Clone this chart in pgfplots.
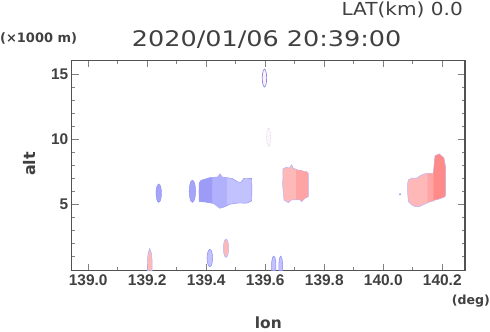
\documentclass[border=0pt]{standalone}
\usepackage{fontspec}
\setmainfont{Liberation Sans}
\newfontfamily\widefont[FakeStretch=1.19]{DejaVu Sans}
\newfontfamily\widerfont[FakeStretch=1.12]{DejaVu Sans}
\newfontfamily\dvs{DejaVu Sans}
\usepackage{pgfplots}
\pgfplotsset{compat=1.18}
\definecolor{txt}{HTML}{404040}
\definecolor{bluefill}{HTML}{A4A4F8}
\definecolor{blueedge}{HTML}{8C8CF0}
\definecolor{bluelight}{HTML}{C2C2FF}
\definecolor{bluemid}{HTML}{B0B0FC}
\definecolor{bluedark}{HTML}{9C9CF6}
\definecolor{pinklight}{HTML}{FFB8B8}
\definecolor{pinkmid}{HTML}{FFA4A4}
\definecolor{pinkdark}{HTML}{FF8A8A}
\definecolor{pinkedge}{HTML}{B4B4FF}
\begin{document}
\begin{tikzpicture}[x=1bp,y=1bp]
\path[use as bounding box] (0,0) rectangle (490,331);
\begin{axis}[at={(71.7bp,60.3bp)}, anchor=south west, scale only axis,
  width=393.3bp, height=210.4bp,
  xmin=138.944, xmax=140.277, ymin=-0.1, ymax=16.05,
  xtick={139,139.2,139.4,139.6,139.8,140,140.2},
  xticklabels={139.0,139.2,139.4,139.6,139.8,140.0,140.2},
  minor xtick={139.1,139.3,139.5,139.7,139.9,140.1},
  ytick={5,10,15}, yticklabels={5,10,15},
  minor ytick={1,2,3,4,6,7,8,9,11,12,13,14},
  tick align=inside, major tick length=7bp, minor tick length=3.5bp,
  axis line style={draw=black!68, line width=1.3bp},
  tick style={draw=black!50, line width=0.8bp},
  ticklabel style={font=\bfseries\fontsize{15.5}{16}\selectfont, text=txt},
  clip=true]
% blob C (large blue)
\addplot[fill=bluelight, draw=blueedge, line width=0.4bp] coordinates {
 (139.3763,6.638) (139.3820,6.831) (139.4125,7.046) (139.4397,7.10) (139.4464,7.331)
 (139.4532,7.10) (139.4871,6.985) (139.5075,6.715) (139.5176,6.677) (139.5278,7.0)
 (139.5539,6.985) (139.5549,6.10) (139.5539,5.254) (139.5369,5.077) (139.5142,5.10)
 (139.5031,5.077) (139.4803,5.0) (139.4634,4.815) (139.4464,4.692) (139.4363,4.869)
 (139.4237,5.077) (139.3956,5.177) (139.3763,5.20) (139.3753,5.946)} -- cycle;
\addplot[fill=bluemid, draw=none] coordinates {
 (139.42,7.05) (139.4397,7.10) (139.4464,7.331) (139.4532,7.10) (139.47,7.05)
 (139.47,4.90) (139.4634,4.815) (139.4464,4.692) (139.4363,4.869) (139.4237,5.077) (139.42,5.05)} -- cycle;
\addplot[fill=bluedark, draw=none] coordinates {
 (139.3763,6.638) (139.3820,6.831) (139.4125,7.046) (139.42,7.05) (139.42,5.05)
 (139.4125,5.10) (139.3956,5.177) (139.3763,5.20) (139.3753,5.946)} -- cycle;
% blob A
\addplot[fill=bluefill, draw=blueedge, line width=0.4bp] coordinates {
 (139.2485,5.85) (139.2472,6.205) (139.2438,6.465) (139.239,6.56) (139.2343,6.465) (139.2308,6.205)
 (139.2295,5.85) (139.2308,5.495) (139.2343,5.235) (139.239,5.14) (139.2438,5.235) (139.2472,5.495)} -- cycle;
% blob B
\addplot[fill=bluefill, draw=blueedge, line width=0.4bp] coordinates {
 (139.364,6.0) (139.3625,6.43) (139.3585,6.745) (139.353,6.86) (139.3475,6.745) (139.3435,6.43)
 (139.342,6.0) (139.3435,5.57) (139.3475,5.255) (139.353,5.14) (139.3585,5.255) (139.3625,5.57)} -- cycle;
% blob E
\addplot[fill=bluelight, draw=blueedge, line width=0.5bp] coordinates {
 (139.4215,0.87) (139.4202,1.205) (139.4168,1.45) (139.412,1.54) (139.4073,1.45) (139.4038,1.205)
 (139.4025,0.87) (139.4038,0.535) (139.4073,0.29) (139.412,0.2) (139.4168,0.29) (139.4202,0.535)} -- cycle;
% blob D (pink)
\addplot[fill=pinklight, draw=pinkedge, line width=0.5bp] coordinates {
 (139.2005,-0.1) (139.2005,0.7) (139.2030,1.25) (139.2085,1.62) (139.2140,1.25) (139.2165,0.7) (139.2165,-0.1)} -- cycle;
% blob F (pink)
\addplot[fill=pinklight, draw=pinkedge, line width=0.5bp] coordinates {
 (139.476,1.63) (139.4748,1.985) (139.4715,2.245) (139.467,2.34) (139.4625,2.245) (139.4592,1.985)
 (139.458,1.63) (139.4592,1.275) (139.4625,1.015) (139.467,0.92) (139.4715,1.015) (139.4748,1.275)} -- cycle;
% blob H (top)
\addplot[fill=pink!25, draw=blueedge, line width=0.7bp] coordinates {
 (139.6048,14.69) (139.6038,15.035) (139.601,15.29) (139.5973,15.38) (139.5936,15.29) (139.5908,15.035)
 (139.5898,14.69) (139.5908,14.345) (139.5936,14.09) (139.5973,14.0) (139.601,14.09) (139.6038,14.345)} -- cycle;
% blob I (faint)
\addplot[fill=pink!12, draw=blueedge!60, line width=0.5bp, densely dotted] coordinates {
 (139.6183,10.14) (139.6174,10.495) (139.6149,10.755) (139.6115,10.85) (139.6081,10.755) (139.6056,10.495)
 (139.6047,10.14) (139.6056,9.785) (139.6081,9.525) (139.6115,9.43) (139.6149,9.525) (139.6174,9.785)} -- cycle;
% blobs J, K
\addplot[fill=bluelight, draw=blueedge, line width=0.5bp] coordinates {
 (139.6216,-0.1) (139.6216,0.55) (139.6245,0.9) (139.6288,1.02) (139.6331,0.9) (139.636,0.55) (139.636,-0.1)} -- cycle;
\addplot[fill=bluelight, draw=blueedge, line width=0.5bp] coordinates {
 (139.6465,-0.1) (139.6465,0.55) (139.649,0.9) (139.6525,1.02) (139.656,0.9) (139.6585,0.55) (139.6585,-0.1)} -- cycle;
% blob L (pink middle)
\addplot[fill=pinklight, draw=pinkedge, line width=0.5bp] coordinates {
 (139.660,7.72) (139.6725,7.85) (139.6814,7.77) (139.6895,8.03) (139.6949,7.77) (139.7085,7.64)
 (139.7234,7.59) (139.7312,7.51) (139.7403,7.51) (139.7458,7.38) (139.7465,6.0) (139.7458,5.585)
 (139.7346,5.46) (139.7234,5.20) (139.7153,5.38) (139.7064,5.33) (139.6895,5.33) (139.678,5.12)
 (139.6725,5.20) (139.6634,5.33) (139.659,6.46)} -- cycle;
\addplot[fill=pinkmid, draw=none] coordinates {
 (139.705,7.66) (139.7085,7.64) (139.7234,7.59) (139.7312,7.51) (139.7403,7.51) (139.7445,7.40)
 (139.7450,6.0) (139.7445,5.60) (139.7346,5.48) (139.7234,5.24) (139.7153,5.40) (139.7064,5.36) (139.705,5.36)} -- cycle;
% blob M (pink right)
\addplot[fill=pinklight, draw=pinkedge, line width=0.5bp] coordinates {
 (140.0827,6.62) (140.0850,6.87) (140.0963,7.0) (140.1132,7.0) (140.1244,7.18) (140.1356,7.31)
 (140.1525,7.38) (140.1695,7.38) (140.1753,8.72) (140.1898,8.87) (140.2058,8.54) (140.2115,7.8)
 (140.2115,5.8) (140.2092,5.58) (140.1864,5.38) (140.1753,5.33) (140.1695,5.25) (140.1583,5.20)
 (140.1471,5.08) (140.1220,4.82) (140.1075,4.82) (140.0963,4.95) (140.0850,5.20) (140.0827,5.8)} -- cycle;
\addplot[fill=pinkmid, draw=none] coordinates {
 (140.150,7.37) (140.1525,7.38) (140.1695,7.38) (140.1695,5.26) (140.1583,5.21) (140.150,5.12)} -- cycle;
\addplot[fill=pinkdark, draw=none] coordinates {
 (140.1700,7.38) (140.1753,8.70) (140.1898,8.85) (140.2050,8.52) (140.2105,7.8)
 (140.2105,5.8) (140.2085,5.60) (140.1864,5.40) (140.1753,5.35) (140.1700,5.30)} -- cycle;
\addplot[only marks, mark=*, mark size=0.6bp, color=blueedge] coordinates {(140.057,5.77)};
\end{axis}
\node[anchor=base, text=txt, inner sep=0pt] at (266.7,284.3) {\widefont\fontsize{21.5}{22}\selectfont 2020/01/06 20:39:00};
\node[anchor=base east, text=txt, inner sep=0pt] at (463,315.3) {\widerfont\fontsize{18}{19}\selectfont LAT(km) 0.0};
\node[anchor=base west, text=txt, inner sep=0pt] at (0,288.5) {\dvs\bfseries\fontsize{13}{14}\selectfont (×1000 m)};
\node[anchor=base east, text=txt, inner sep=0pt] at (490,27) {\dvs\bfseries\fontsize{12.6}{14}\selectfont (deg)};
\node[anchor=base, text=txt, inner sep=0pt] at (268.3,2.5) {\dvs\bfseries\fontsize{15.5}{16}\selectfont lon};
\node[anchor=base, rotate=90, text=txt, inner sep=0pt] at (35,167) {\dvs\bfseries\fontsize{16}{17}\selectfont alt};
\end{tikzpicture}
\end{document}
